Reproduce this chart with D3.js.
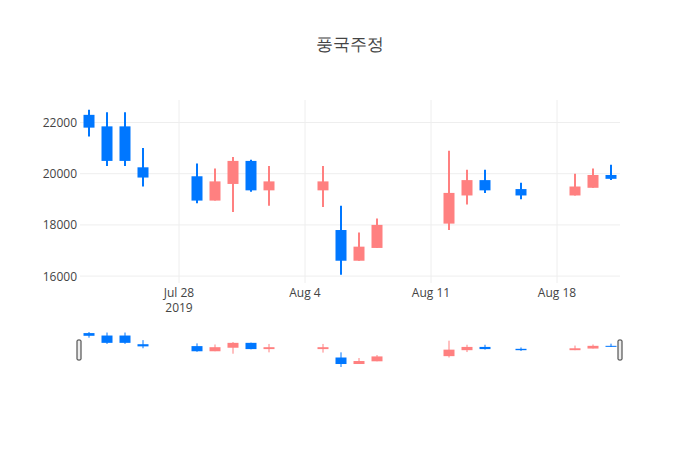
<!DOCTYPE html><html><head><meta charset="utf-8"><script src="https://cdn.jsdelivr.net/npm/d3@7"></script>
<style>body{margin:0;background:#fff}text{font-family:"Open Sans",sans-serif}</style></head><body><svg id="c" width="700" height="450"></svg>
<script>
const dates=["2019-07-23","2019-07-24","2019-07-25","2019-07-26","2019-07-29","2019-07-30","2019-07-31","2019-08-01","2019-08-02","2019-08-05","2019-08-06","2019-08-07","2019-08-08","2019-08-12","2019-08-13","2019-08-14","2019-08-16","2019-08-19","2019-08-20","2019-08-21"];
const open=[22300,21850,21850,20250,19900,18950,19600,20500,19350,19350,17800,16600,17100,18050,19150,19750,19400,19150,19450,19950];
const high=[22500,22400,22400,21000,20400,20200,20650,20550,20300,20300,18750,17700,18250,20900,20150,20150,19650,20000,20200,20350];
const low=[21450,20300,20300,19500,18850,18950,18500,19300,18750,18700,16050,16600,17100,17800,18800,19250,19000,19150,19450,19750];
const close=[21800,20500,20500,19850,18950,19700,20500,19350,19700,19700,16600,17150,18000,19250,19750,19350,19150,19500,19950,19800];
const yTicks=[16000,18000,20000,22000];
const xTicks=["2019-07-28","2019-08-04","2019-08-11","2019-08-18"];
const INC="#ff8080",DEC="#0077ff";
const svg=d3.select("#c");
const P=d3.timeParse("%Y-%m-%d");
const data=dates.map((d,i)=>({d:P(d),o:open[i],h:high[i],l:low[i],c:close[i]}));
const x=d3.scaleTime().domain([new Date(2019,6,22,12),new Date(2019,7,21,12)]).range([80,620]);
const y=d3.scaleLinear().domain([15730,22880]).range([283,100]);
const ys=d3.scaleLinear().domain([d3.min(low),d3.max(high)]).range([367,332]);
svg.append("text").attr("x",350).attr("y",50).attr("text-anchor","middle").attr("font-size",17).attr("fill","#444").text("풍국주정");
const g=svg.append("g");
g.selectAll(".gy").data(yTicks).join("line").attr("x1",80).attr("x2",620).attr("y1",d=>y(d)).attr("y2",d=>y(d)).attr("stroke","#eee");
g.selectAll(".gx").data(xTicks).join("line").attr("y1",100).attr("y2",283).attr("x1",d=>x(P(d))).attr("x2",d=>x(P(d))).attr("stroke","#eee");
g.selectAll(".yl").data(yTicks).join("text").attr("x",77).attr("y",d=>y(d)+4.5).attr("text-anchor","end").attr("font-size",12).attr("fill","#444").text(d=>d);
const fmt=d3.timeFormat("%b %-d");
g.selectAll(".xl").data(xTicks).join("text").attr("x",d=>x(P(d))).attr("y",297).attr("text-anchor","middle").attr("font-size",12).attr("fill","#444").text(d=>fmt(P(d)));
g.append("text").attr("x",x(P(xTicks[0]))).attr("y",312).attr("text-anchor","middle").attr("font-size",12).attr("fill","#444").text("2019");
function draw(sel,sc,bw,lw){
  const c=sel.selectAll("g.k").data(data).join("g");
  c.append("line").attr("x1",d=>x(d.d)).attr("x2",d=>x(d.d)).attr("y1",d=>sc(d.h)).attr("y2",d=>sc(d.l)).attr("stroke",d=>d.c>=d.o?INC:DEC).attr("stroke-width",lw);
  c.append("rect").attr("x",d=>x(d.d)-bw/2).attr("width",bw).attr("y",d=>sc(Math.max(d.o,d.c))).attr("height",d=>Math.max(1,sc(Math.min(d.o,d.c))-sc(Math.max(d.o,d.c)))).attr("fill",d=>d.c>=d.o?INC:DEC);
}
draw(svg.append("g"),y,11,2);
draw(svg.append("g"),ys,11,1);
[79,620].forEach(px=>svg.append("rect").attr("x",px-2).attr("y",340).attr("width",4).attr("height",20).attr("rx",1).attr("fill","#eee").attr("stroke","#333").attr("stroke-width",1));
</script></body></html>
